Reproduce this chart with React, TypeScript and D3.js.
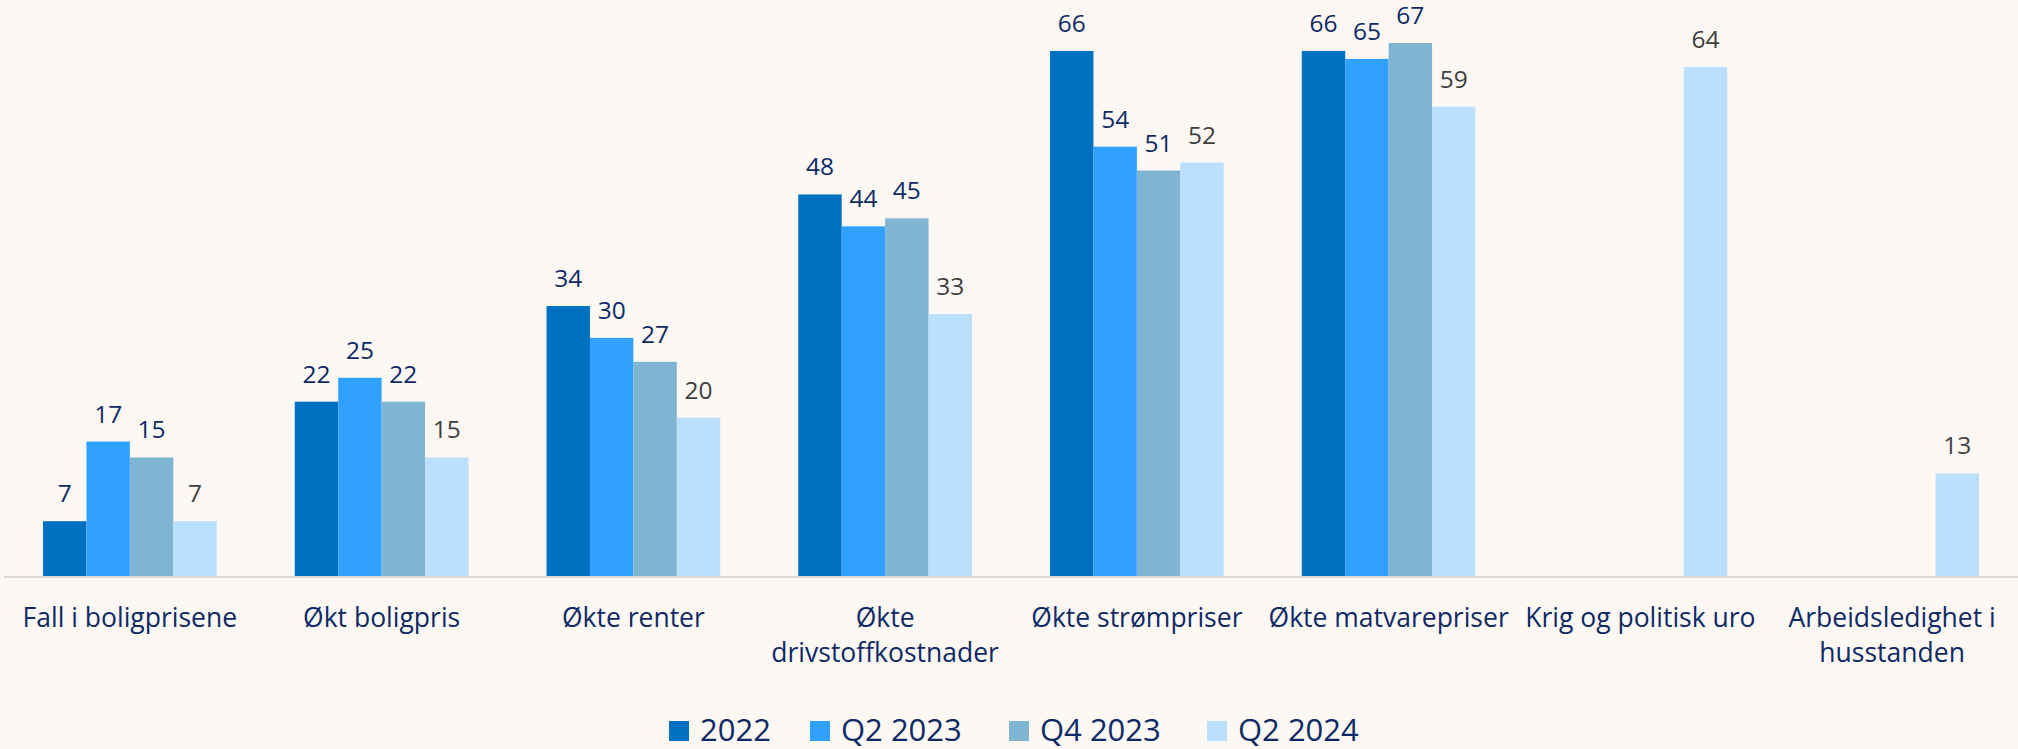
import React from 'react';
import { scaleBand, scaleLinear } from 'd3';

const categories = [
  ['Fall i boligprisene'],
  ['Økt boligpris'],
  ['Økte renter'],
  ['Økte', 'drivstoffkostnader'],
  ['Økte strømpriser'],
  ['Økte matvarepriser'],
  ['Krig og politisk uro'],
  ['Arbeidsledighet i', 'husstanden']
];
const seriesNames = ['2022', 'Q2 2023', 'Q4 2023', 'Q2 2024'];
const s2022 = [7, 22, 34, 48, 66, 66, null, null];
const sQ2_2023 = [17, 25, 30, 44, 54, 65, null, null];
const sQ4_2023 = [15, 22, 27, 45, 51, 67, null, null];
const sQ2_2024 = [7, 15, 20, 33, 52, 59, 64, 13];
const seriesValues = [s2022, sQ2_2023, sQ4_2023, sQ2_2024];

const colors = ['#0070c0', '#31a1ff', '#7fb4d3', '#bae0fd'];
const labelColors = ['#0e2a66', '#0e2a66', '#0e2a66', '#404040'];

const W = 2018;
const H = 749;
const baseY = 577;

export default function App() {
  const x = scaleBand<number>()
    .domain(categories.map((_, i) => i))
    .range([4, W])
    .paddingInner(0.31)
    .paddingOuter(0.155);
  const xs = scaleBand<number>()
    .domain(seriesNames.map((_, i) => i))
    .range([0, x.bandwidth()]);
  const y = scaleLinear().domain([0, 70]).range([baseY, baseY - 70 * 7.97]);

  const font = '"Open Sans", sans-serif';
  const legendX = [669, 810, 1009, 1207];

  return (
    <svg
      width={W}
      height={H}
      style={{ position: 'absolute', left: 0, top: 0, background: '#fdf8f4' }}
    >
      <rect width={W} height={H} fill="#fdf8f4" />
      {seriesValues.map((vals, s) => (
        <g key={s}>
          {vals.map((v, i) =>
            v == null ? null : (
              <g key={i}>
                <rect
                  x={(x(i) ?? 0) + (xs(s) ?? 0)}
                  y={y(v)}
                  width={xs.bandwidth()}
                  height={baseY - y(v)}
                  fill={colors[s]}
                />
                <text
                  x={(x(i) ?? 0) + (xs(s) ?? 0) + xs.bandwidth() / 2}
                  y={y(v) - 19}
                  textAnchor="middle"
                  fontFamily={font}
                  fontSize={24.5}
                  fill={labelColors[s]}
                >
                  {v}
                </text>
              </g>
            )
          )}
        </g>
      ))}
      <line x1={4} x2={W} y1={baseY} y2={baseY} stroke="#d9d9d9" strokeWidth={2} />
      {categories.map((lines, i) => (
        <text
          key={i}
          x={(x(i) ?? 0) + x.bandwidth() / 2}
          y={627}
          textAnchor="middle"
          fontFamily={font}
          fontSize={26.5}
          fill="#0e2a66"
        >
          {lines.map((l, j) => (
            <tspan key={j} x={(x(i) ?? 0) + x.bandwidth() / 2} dy={j === 0 ? 0 : 35}>
              {l}
            </tspan>
          ))}
        </text>
      ))}
      {seriesNames.map((name, s) => (
        <g key={s} transform={`translate(${legendX[s]}, 721)`}>
          <rect width={20} height={20} fill={colors[s]} />
          <text x={31} y={20} fontFamily={font} fontSize={31} fill="#0e2a66">
            {name}
          </text>
        </g>
      ))}
    </svg>
  );
}
